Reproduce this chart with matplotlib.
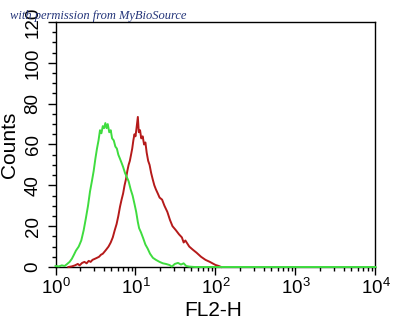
"""
Flow cytometry overlay histogram: isotype control (green) against
stained sample (red) on the FL2-H channel, log scale.
"""
import matplotlib
matplotlib.use('Agg')
import matplotlib.pyplot as plt
from matplotlib.ticker import MultipleLocator, LogLocator

# control histogram (green)
green_x = [1.00, 1.10, 1.20, 1.30, 1.40, 1.50, 1.60, 1.70, 1.80, 1.95,
           2.10, 2.25, 2.40, 2.55, 2.70, 2.85, 3.00, 3.15, 3.30, 3.45,
           3.60, 3.75, 3.90, 4.05, 4.20, 4.35, 4.50, 4.70, 4.90, 5.10,
           5.35, 5.60, 5.85, 6.10, 6.40, 6.70, 7.00, 7.40, 7.80, 8.20,
           8.70, 9.20, 9.70, 10.2, 10.7, 11.1, 11.7, 12.5, 13.3, 14.2,
           15.2, 16.5, 18.0, 20.0, 22.0, 24.0, 26.5, 28.5, 31.0, 34.0,
           37.0, 40.0, 43.0, 47.0, 55.0, 10000.0]
green_counts = [0.5, 0.3, 0.8, 0.5, 1.5, 2.5, 4.0, 6.0, 8.0, 10.0,
                13.0, 18.0, 24.0, 30.0, 37.0, 42.0, 47.0, 53.0, 58.0, 62.0,
                67.0, 65.5, 69.0, 68.0, 70.5, 68.0, 70.0, 66.0, 67.0, 63.0,
                62.0, 59.0, 58.0, 55.0, 53.0, 51.0, 49.0, 46.0, 44.0, 42.0,
                38.0, 35.0, 31.0, 27.0, 22.0, 19.0, 17.0, 14.0, 11.0, 9.0,
                6.5, 4.5, 3.5, 2.5, 1.8, 1.5, 1.0, 0.2, 1.5, 2.0,
                1.2, 1.8, 0.5, 0.2, 0.0, 0.0]

# stained sample histogram (red)
red_x = [1.45, 1.60, 1.75, 1.90, 2.00, 2.15, 2.30, 2.45, 2.60, 2.75,
         2.90, 3.10, 3.30, 3.50, 3.70, 3.90, 4.10, 4.30, 4.60, 4.90,
         5.20, 5.50, 5.80, 6.10, 6.40, 6.70, 7.00, 7.30, 7.60, 7.90,
         8.20, 8.50, 8.80, 9.10, 9.40, 9.70, 10.0, 10.3, 10.7, 11.0,
         11.4, 11.8, 12.3, 12.8, 13.3, 13.8, 14.4, 15.0, 15.7, 16.4,
         17.2, 18.0, 19.0, 20.0, 21.5, 23.0, 25.0, 27.0, 29.0, 32.0,
         35.0, 38.0, 40.0, 42.0, 47.0, 52.0, 58.0, 66.0, 75.0, 85.0,
         100.0, 110.0, 118.0]
red_counts = [0.0, 0.3, 0.8, 1.5, 0.8, 2.0, 2.5, 1.8, 3.0, 2.5,
              3.5, 4.0, 4.5, 5.0, 6.0, 6.5, 7.5, 8.5, 10.0, 12.0,
              14.5, 18.0, 21.0, 25.0, 29.5, 33.0, 36.0, 40.0, 43.0, 47.0,
              50.0, 52.0, 55.0, 58.0, 62.0, 65.0, 64.0, 68.0, 73.5, 66.0,
              67.0, 63.0, 64.0, 60.0, 61.0, 56.0, 52.0, 50.0, 46.0, 43.0,
              40.0, 38.0, 36.0, 34.0, 33.0, 30.0, 27.0, 23.0, 20.0, 18.0,
              16.0, 14.5, 12.0, 13.0, 10.0, 8.5, 7.0, 5.0, 3.5, 2.5,
              1.0, 0.5, 0.0]

y_ticks = [0, 20, 40, 60, 80, 100, 120]


def style_axes(ax):
    """
    Log x axis from 10^0 to 10^4, counts 0-120, outward ticks,
    vertical y tick labels.
    """
    ax.set_xscale('log')
    ax.set_xlim(1, 1e4)
    ax.set_ylim(0, 120)
    ax.set_yticks(y_ticks)
    ax.yaxis.set_minor_locator(MultipleLocator(5))
    ax.xaxis.set_major_locator(LogLocator(base=10, numticks=10))
    ax.xaxis.set_minor_locator(LogLocator(base=10, subs=range(2, 10),
                                          numticks=20))
    ax.tick_params(which='major', direction='out', length=6, width=1,
                   labelsize=13.5)
    ax.tick_params(which='minor', direction='out', length=3, width=1)
    ax.tick_params(axis='y', pad=4)
    ax.tick_params(axis='x', pad=2)
    for label in ax.get_yticklabels():
        label.set_rotation(90)
        label.set_va('center')
    for spine in ax.spines.values():
        spine.set_linewidth(1.0)

    ax.set_xlabel('FL2-H', fontsize=15, va='center')
    ax.xaxis.set_label_coords(0.494, -0.176)
    ax.set_ylabel('Counts', fontsize=15, va='center')
    ax.yaxis.set_label_coords(-0.144, 0.5)


def main():
    plt.rcParams['font.family'] = ['Liberation Sans', 'DejaVu Sans']
    plt.rcParams['mathtext.default'] = 'regular'

    fig = plt.figure(figsize=(3.97, 3.22), dpi=100)
    ax = fig.add_axes([0.1398, 0.1708, 0.806, 0.7609])

    ax.plot(red_x, red_counts, color='#b51a1a', lw=1.4, zorder=3,
            clip_on=False)
    ax.plot(green_x, green_counts, color='#3fdc3f', lw=1.4, zorder=4,
            clip_on=False)
    style_axes(ax)

    # source note written across the top left corner
    fig.text(10 / 397, 1 - 15.5 / 322,
             'with permission from MyBioSource',
             family=['Liberation Serif', 'DejaVu Serif'], style='italic',
             fontsize=9, color='#24357a', ha='left', va='center')

    fig.savefig('out.png', dpi=100)


if __name__ == '__main__':
    main()
